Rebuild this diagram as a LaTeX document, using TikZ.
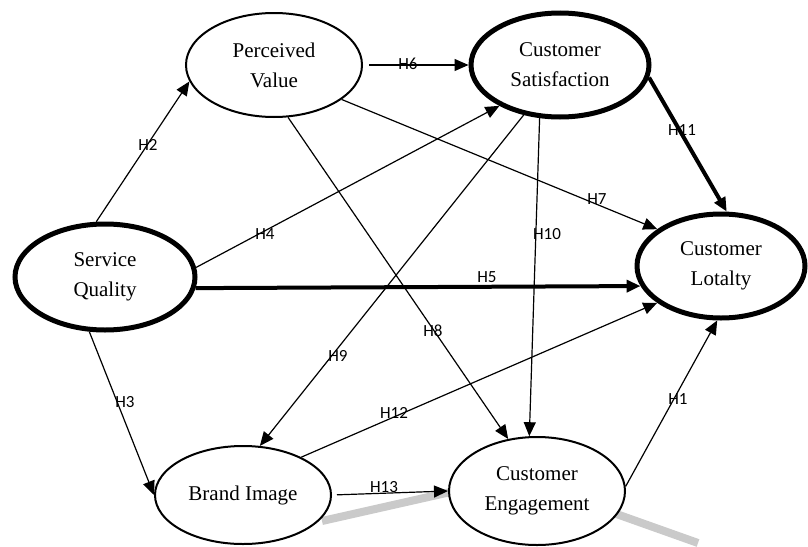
\documentclass[tikz,border=0pt]{standalone}
\usepackage{fontspec}
\setmainfont{Liberation Serif}
\newfontfamily\hfont{Carlito}
\usetikzlibrary{arrows.meta,shapes.geometric}
\definecolor{shadowgrey}{RGB}{202,202,202}
\tikzset{
  lat/.style={draw=black,ellipse,fill=white,line width=2pt,inner sep=0pt,align=center,
              font=\fontsize{21}{30}\selectfont},
  latk/.style={lat,line width=5pt},
  hyp/.style={-{Triangle[length=14pt,width=12pt]},line width=1.2pt},
  hypk/.style={hyp,line width=4pt},
  hlbl/.style={font=\hfont\fontsize{17}{20}\selectfont,inner sep=0pt},
}

\begin{document}
\begin{tikzpicture}[x=1pt,y=-1pt]
  \useasboundingbox (0,0) rectangle (808,546);
  % page shadow under the bottom row
  \draw[shadowgrey,line width=8pt] (322,521) -- (455,491);
  \draw[shadowgrey,line width=8pt] (608,511) -- (698,543);

  % constructs
  \node[lat,minimum width=176,minimum height=104] (pv) at (274,65) {Perceived\\Value};
  \node[latk,minimum width=178,minimum height=104] (cs) at (560,65) {Customer\\Satisfaction};
  \node[latk,minimum width=180,minimum height=106] (sq) at (105,277) {Service\\Quality};
  \node[latk,minimum width=168,minimum height=104] (cl) at (721,266) {Customer\\Lotalty};
  \node[lat,minimum width=176,minimum height=98] (bi) at (243,495) {Brand Image};
  \node[lat,minimum width=176,minimum height=108] (ce) at (537,491) {Customer\\Engagement};

  % hypotheses
  \draw[hyp] (sq.99) -- (pv.191);
  \draw[hyp] (sq.6) -- (cs.214);
  \draw[hyp] (sq.254) -- (bi.180);
  \draw[hypk] (sq.353) -- (cl.194);
  \draw[hyp,shorten <=6pt] (pv.east) -- (cs.west);
  \draw[hyp] (pv.333) -- (cl.150);
  \draw[hyp] (pv.285) -- (ce.119);
  \draw[hyp] (cs.234) -- (bi.71);
  \draw[hyp] (cs.249) -- (ce.98);
  \draw[hypk] (cs.352) -- (cl.84);
  \draw[hyp] (bi.33) -- (cl.210);
  \draw[hyp,shorten <=5pt] (bi.east) -- (ce.west);
  \draw[hyp] (ce.3) -- (cl.266);

  \node[hlbl] (h1) at (678,399) {H1};
  \node[hlbl] (h2) at (148,145) {H2};
  \node[hlbl] (h3) at (125,402) {H3};
  \node[hlbl] (h4) at (265,234) {H4};
  \node[hlbl] (h5) at (487,277) {H5};
  \node[hlbl] (h6) at (408,64) {H6};
  \node[hlbl] (h7) at (597,199) {H7};
  \node[hlbl] (h8) at (433,331) {H8};
  \node[hlbl] (h9) at (338,356) {H9};
  \node[hlbl] (h10) at (547,234) {H10};
  \node[hlbl] (h11) at (682,130) {H11};
  \node[hlbl] (h12) at (394,413) {H12};
  \node[hlbl] (h13) at (384,487) {H13};
\end{tikzpicture}
\end{document}
